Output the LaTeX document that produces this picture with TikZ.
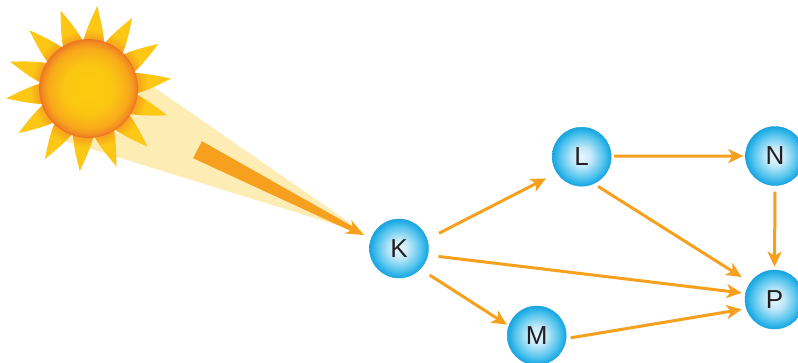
\documentclass[tikz,border=0pt]{standalone}
\usepackage{fontspec}
\setmainfont{Liberation Sans}
\usetikzlibrary{arrows.meta}
\definecolor{arr}{HTML}{F6A01E}
\definecolor{beam}{HTML}{FDEDB5}
\definecolor{txt}{HTML}{231F20}
\definecolor{dA}{HTML}{FCCD0E}
\definecolor{dB}{HTML}{FBC512}
\definecolor{dC}{HTML}{F8AA1B}
\definecolor{dD}{HTML}{F38E21}
\definecolor{dE}{HTML}{EE7623}
\definecolor{rA}{HTML}{F39A1E}
\definecolor{rB}{HTML}{FDC715}
\definecolor{nA}{HTML}{E6F6FD}
\definecolor{nB}{HTML}{C2E9F9}
\definecolor{nC}{HTML}{5AC6EE}
\definecolor{nD}{HTML}{25AFE6}
\definecolor{nE}{HTML}{1CA3DD}
% TikZ maps the central 50bp x 50bp of a shading onto the path's bounding box
\pgfdeclareradialshading{diskshade}{\pgfpoint{0bp}{0bp}}{color(0bp)=(dA); color(13bp)=(dB); color(20.5bp)=(dC); color(23.5bp)=(dD); color(25bp)=(dE); color(50bp)=(dE)}
\pgfdeclareradialshading{rayshade}{\pgfpoint{0bp}{0bp}}{color(0bp)=(rA); color(14bp)=(rA); color(17.5bp)=(rB); color(50bp)=(rB)}
\pgfdeclareradialshading{nodeshade}{\pgfpoint{0bp}{0bp}}{color(0bp)=(nA); color(8bp)=(nB); color(18bp)=(nC); color(23bp)=(nD); color(25bp)=(nE); color(50bp)=(nE)}
\tikzset{
  ball/.style={circle, minimum size=59pt, inner sep=0pt, outer sep=0pt,
    shading=nodeshade, draw=nE, line width=0.4pt, text=txt,
    font=\fontsize{26}{30}\selectfont},
  conn/.style={draw=arr, line width=3pt,
    -{Stealth[length=15pt, width=14pt, inset=4pt]}}
}
\begin{document}
\begin{tikzpicture}[x=1pt,y=-1pt]
\useasboundingbox (0,0) rectangle (798,362);
% light beam
\fill[beam] (366,234) -- (62,140) -- (125,67) -- cycle;
% sun rays
\begin{scope}[shift={(88.5,88.5)}]
\clip foreach \a in {-84,-58.29,-32.57,-6.86,18.86,44.57,70.29,96,121.71,147.43,173.14,198.86,224.57,250.29}{
  (\a-14:44) .. controls (\a-9:58) and (\a-3:72) .. (\a:83)
  .. controls (\a+4:70) and (\a+10:57) .. (\a+15:44) -- cycle };
\shade[shading=rayshade] (0,0) circle[radius=84pt];
\end{scope}
% sun disk
\shade[shading=diskshade] (88.5,88.5) circle[radius=49pt];
\draw[dE, line width=0.8pt] (88.5,88.5) circle[radius=49pt];
% big wedge arrow
\fill[arr] (193.1,158.2) -- (201.9,141.2) -- (352.6,226.4) -- (351.3,220.1)
  -- (363.9,235.0) -- (344.5,233.4) -- (350.3,230.8) -- cycle;
% nodes
\node[ball] (K) at (399,248.5) {K};
\node[ball] (L) at (581.7,156.7) {L};
\node[ball] (N) at (775,156) {N};
\node[ball] (P) at (774.5,299.5) {P};
\node[ball] (M) at (536.7,335.5) {M};
% connectors
\draw[conn, shorten <=13.5pt, shorten >=12.4pt] (K.18) -- (L.213);
\draw[conn, shorten <=2.8pt, shorten >=2.2pt] (L.1) -- (N.180);
\draw[conn, shorten <=5.2pt, shorten >=10.4pt] (L.-66) -- (P.145);
\draw[conn, shorten <=10.8pt, shorten >=4pt] (K.-13) -- (P.168);
\draw[conn, shorten <=11.2pt, shorten >=2.3pt] (K.-44) -- (M.161);
\draw[conn, shorten <=4.7pt, shorten >=4.9pt] (M.-6) -- (P.198);
\draw[conn, shorten <=6.2pt, shorten >=3.3pt] (N.-90) -- (P.90);
\end{tikzpicture}
\end{document}
